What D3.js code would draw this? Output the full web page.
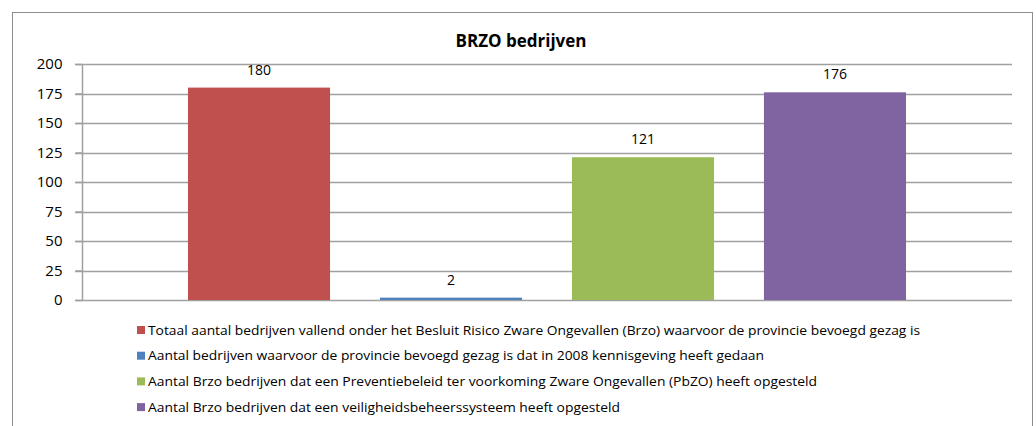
<!DOCTYPE html>
<html>
<head>
<meta charset="utf-8">
<script src="https://cdn.jsdelivr.net/npm/d3@7"></script>
<style>
  body { margin: 0; background: #fff; }
  svg text { font-family: "Open Sans", "DejaVu Sans", sans-serif; fill: #000; }
</style>
</head>
<body>
<svg id="chart" width="1036" height="426"></svg>
<script>
// data
var title = "BRZO bedrijven";
var series = [
  "Totaal aantal bedrijven vallend onder het Besluit Risico Zware Ongevallen (Brzo) waarvoor de provincie bevoegd gezag is",
  "Aantal bedrijven waarvoor de provincie bevoegd gezag is dat in 2008 kennisgeving heeft gedaan",
  "Aantal Brzo bedrijven dat een Preventiebeleid ter voorkoming Zware Ongevallen (PbZO) heeft opgesteld",
  "Aantal Brzo bedrijven dat een veiligheidsbeheerssysteem heeft opgesteld"
];
var values = [180, 2, 121, 176];
var colors = ["#C0504D", "#4F81BD", "#9BBB59", "#8064A2"];
var yTicks = [0, 25, 50, 75, 100, 125, 150, 175, 200];

// breedte van de legendateksten (px)
var legendWidths = [772, 616, 669, 472];

var svg = d3.select("#chart");

// buitenrand
svg.append("rect")
   .attr("x", 12.5).attr("y", 12.5)
   .attr("width", 1020).attr("height", 430)
   .attr("fill", "none").attr("stroke", "#8c8c8c").attr("stroke-width", 1);

var pLeft = 82, pRight = 1012, pTop = 64, pBottom = 300;

var y = d3.scaleLinear().domain([0, 200]).range([pBottom, pTop]);
var x0 = d3.scaleBand().domain([""]).range([pLeft, pRight]).paddingInner(0).paddingOuter(0.1055);
var x1 = d3.scaleBand().domain(d3.range(series.length))
           .range([0, x0.bandwidth()]).paddingInner(0.26).paddingOuter(0.13);

// gridlijnen
svg.append("g").selectAll("line")
   .data(yTicks)
   .enter().append("line")
   .attr("x1", pLeft - 7).attr("x2", pRight)
   .attr("y1", function(d){ return Math.round(y(d)) + 0.5; })
   .attr("y2", function(d){ return Math.round(y(d)) + 0.5; })
   .attr("stroke", "#a0a0a0").attr("stroke-width", 1.5);

// y-as
var yAxis = svg.append("g")
   .attr("transform", "translate(" + (pLeft + 0.5) + ",0)")
   .call(d3.axisLeft(y).tickValues(yTicks).tickSize(7).tickPadding(13));
yAxis.selectAll("path, line").attr("stroke", "#a0a0a0").attr("stroke-width", 1.5);
yAxis.select(".domain").attr("d", "M0," + pTop + "V" + pBottom);
yAxis.selectAll("text").style("font-size", "15px").attr("fill", "#000");

// balken
var g = svg.append("g").attr("transform", "translate(" + x0("") + ",0)");
g.selectAll("rect")
 .data(values)
 .enter().append("rect")
 .attr("x", function(d, i){ return x1(i); })
 .attr("y", function(d){ return y(d); })
 .attr("width", x1.bandwidth())
 .attr("height", function(d){ return y(0) - y(d); })
 .attr("fill", function(d, i){ return colors[i]; });

// labels
g.selectAll("text.val")
 .data(values)
 .enter().append("text")
 .attr("class", "val")
 .attr("x", function(d, i){ return x1(i) + x1.bandwidth() / 2; })
 .attr("y", function(d){ return y(d) - 13; })
 .attr("text-anchor", "middle")
 .style("font-size", "14px")
 .text(function(d){ return d; });

// titel
svg.append("text")
   .attr("x", 521).attr("y", 47)
   .attr("text-anchor", "middle")
   .style("font-size", "17px").style("font-weight", "bold")
   .text(title);

// legenda
var legend = svg.append("g").selectAll("g")
   .data(series)
   .enter().append("g")
   .attr("transform", function(d, i){ return "translate(137," + (330 + i * 25.7) + ")"; });
legend.append("rect")
   .attr("x", 0).attr("y", -4).attr("width", 8).attr("height", 8)
   .attr("fill", function(d, i){ return colors[i]; });
legend.append("text")
   .attr("x", 11).attr("y", 4.5)
   .style("font-size", "13px")
   .attr("textLength", function(d, i){ return legendWidths[i]; })
   .attr("lengthAdjust", "spacingAndGlyphs")
   .text(function(d){ return d; });
</script>
</body>
</html>
